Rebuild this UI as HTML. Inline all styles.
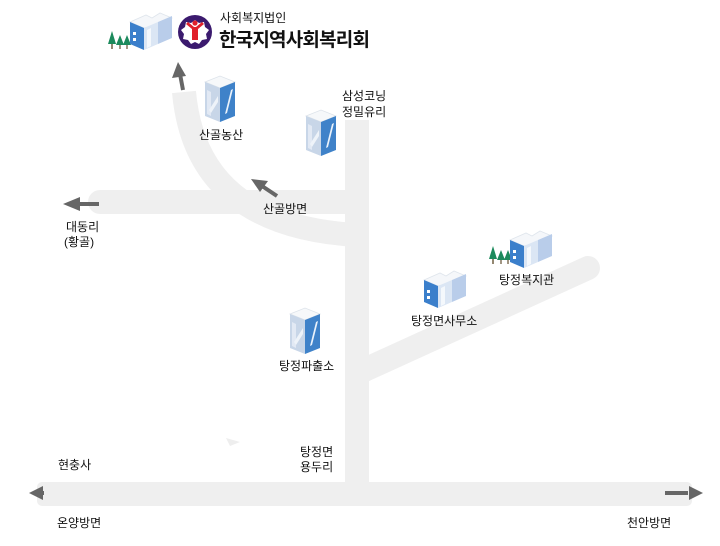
<!DOCTYPE html>
<html><head><meta charset="utf-8"><style>
html,body{margin:0;padding:0;background:#fff;}
svg{display:block;}
text{font-family:"Liberation Sans","Noto Sans CJK KR",sans-serif;font-size:12px;fill:#111;}
</style></head><body>
<svg width="720" height="546" viewBox="0 0 720 546" xmlns="http://www.w3.org/2000/svg">
<defs>
<g id="tower">
<polygon points="0,6 15,0 30,6 15,12" fill="#f6f8fa" stroke="#dde3ea" stroke-width="0.8"/>
<polygon points="0,6 15,12 15,46 0,40" fill="#c8d6e8"/>
<polygon points="15,12 30,6 30,40 15,46" fill="#3f82c9"/>
<polygon points="2,14 6,16 6,40 2,38" fill="#e8eef6" opacity="0.8"/>
<polygon points="20,38 26,14 28,13 22,37" fill="#eaf2fb"/>
<polygon points="4,34 13,20 13,26 6,37" fill="#eef3f9"/>
</g>
<g id="office">
<polygon points="0,12 16,5 22,8 30,3 42,8 28,14 14,18" fill="#f5f7fa" stroke="#dfe5ec" stroke-width="0.8"/>
<polygon points="0,12 14,18 14,40 0,34" fill="#3b7fcb"/>
<rect x="3" y="22" width="3" height="3" fill="#fff"/>
<rect x="3" y="28" width="3" height="3" fill="#fff"/>
<polygon points="14,18 28,12 28,34 14,40" fill="#dbe6f4"/>
<polygon points="17,20 21,18 21,36 17,38" fill="#fff" opacity="0.7"/>
<polygon points="28,12 42,6 42,28 28,34" fill="#b9cdea"/>
</g>
<g id="trees">
<polygon points="4,0 8,13 0,13" fill="#1c8a5c"/><rect x="3.2" y="13" width="1.6" height="5" fill="#7a6a50"/>
<polygon points="12,4 16,14 8,14" fill="#1c8a5c"/><rect x="11.3" y="14" width="1.4" height="4" fill="#7a6a50"/>
<polygon points="19,4 23,14 15,14" fill="#1c8a5c"/><rect x="18.3" y="14" width="1.4" height="4" fill="#7a6a50"/>
</g>
</defs>

<!-- roads -->
<g fill="none" stroke="#efefef" stroke-width="24" stroke-linecap="round">
<path d="M184 92 Q196 226 357 235" stroke-linecap="butt"/>
<line x1="100" y1="202" x2="345" y2="202"/>
<line x1="357" y1="120" x2="357" y2="490" stroke-linecap="butt"/>
<line x1="360" y1="372" x2="588" y2="268"/>
</g>
<rect x="37" y="482" width="655" height="24" rx="5" fill="#efefef"/>
<polygon points="226,438 240,442 230,446" fill="#eee"/>

<!-- arrows -->
<g stroke="#666" stroke-width="4" fill="#666">
<line x1="183" y1="90" x2="180" y2="74"/>
<line x1="277" y1="196" x2="262" y2="186"/>
<line x1="99" y1="204" x2="78" y2="204"/>
<line x1="44" y1="493" x2="40" y2="493"/>
<line x1="665" y1="493" x2="688" y2="493"/>
</g>
<g fill="#666">
<polygon points="178,62 186,76 172,78"/>
<polygon points="251,179 268,181 260,192"/>
<polygon points="63,204 80,197 80,211"/>
<polygon points="29,493 43,486 43,500"/>
<polygon points="703,493 689,486 689,500"/>
</g>

<!-- icons -->
<use href="#trees" x="108" y="31"/>
<use href="#office" x="130" y="10"/>
<use href="#tower" x="205" y="76"/>
<use href="#tower" x="306" y="110"/>
<use href="#tower" x="290" y="308"/>
<use href="#office" x="424" y="268"/>
<use href="#trees" x="489" y="246"/>
<use href="#office" x="510" y="228"/>

<!-- logo -->
<circle cx="195" cy="32" r="17" fill="#3b1a6e"/>
<path d="M195 20 l4 3 5-1 1 5 4 3-3 4 1 5-5 1-3 4-4-2-4 2-3-4-5-1 1-5-3-4 4-3 1-5 5 1z" fill="#fff"/>
<circle cx="195" cy="23" r="2.6" fill="#e0202a"/>
<path d="M186 24 L192 29 L192 40 L198 40 L198 29 L204 24 L202 22 L196 27 L194 27 L188 22Z" fill="#e0202a"/>

<!-- title -->
<text x="220" y="22" style="font-size:12px">사회복지법인</text>
<text x="219" y="46" style="font-size:19px;font-weight:bold;letter-spacing:-0.8px">한국지역사회복리회</text>

<!-- labels -->
<text x="199" y="139">산골농산</text>
<text x="342" y="100">삼성코닝</text>
<text x="342" y="116">정밀유리</text>
<text x="263" y="213">산골방면</text>
<text x="66" y="231">대동리</text>
<text x="64" y="246">(황골)</text>
<text x="499" y="284">탕정복지관</text>
<text x="411" y="325">탕정면사무소</text>
<text x="279" y="370">탕정파출소</text>
<text x="300" y="456">탕정면</text>
<text x="300" y="471">용두리</text>
<text x="58" y="469">현충사</text>
<text x="57" y="527">온양방면</text>
<text x="627" y="527">천안방면</text>
</svg>
</body></html>
